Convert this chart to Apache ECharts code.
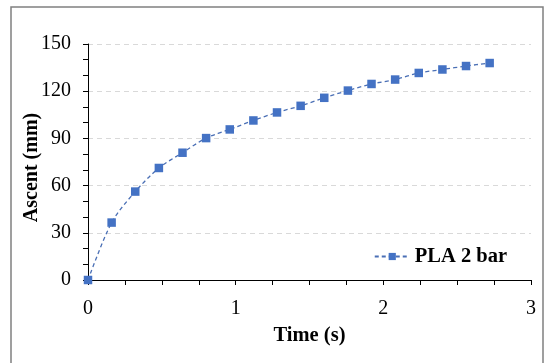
<!DOCTYPE html>
<html><head><meta charset="utf-8">
<script src="https://cdn.jsdelivr.net/npm/echarts@6/dist/echarts.min.js"></script>
<style>html,body{margin:0;padding:0;background:#fff}#c{width:548px;height:363px}</style>
</head><body><div id="c"></div>
<script>
const timeS = [0, 0.16, 0.32, 0.48, 0.64, 0.80, 0.96, 1.12, 1.28, 1.44, 1.60, 1.76, 1.92, 2.08, 2.24, 2.40, 2.56, 2.72];
const ascentMm = [0, 36.5, 56.2, 71.2, 80.9, 90.2, 95.7, 101.4, 106.5, 110.7, 115.8, 120.4, 124.6, 127.4, 131.6, 133.8, 136.0, 137.9];
const seriesName = 'PLA 2 bar';
const xTitle = 'Time (s)';
const yTitle = 'Ascent (mm)';

const chart = echarts.init(document.getElementById('c'), null, {renderer: 'canvas'});
const font = 'Liberation Serif';
chart.setOption({
  animation: false,
  backgroundColor: '#fff',
  graphic: [{type: 'rect', shape: {x: 11, y: 7, width: 532, height: 370}, style: {fill: 'none', stroke: '#808080', lineWidth: 1.5}, silent: true}],
  grid: {left: 88, right: 17, top: 44, bottom: 83},
  legend: {
    right: 36, top: 241, itemWidth: 35, itemHeight: 9, itemGap: 6,
    textStyle: {fontFamily: font, fontSize: 20.5, fontWeight: 'bold', color: '#000'},
    data: [seriesName]
  },
  xAxis: {
    type: 'value', min: 0, max: 3, interval: 1,
    name: xTitle, nameLocation: 'middle', nameGap: 45,
    nameTextStyle: {fontFamily: font, fontSize: 20.5, fontWeight: 'bold', color: '#000'},
    axisLine: {show: true, lineStyle: {color: '#000', width: 1}},
    axisTick: {show: true, length: 5, lineStyle: {color: '#000'}},
    minorTick: {show: true, splitNumber: 4, length: 5, lineStyle: {color: '#000'}},
    axisLabel: {fontFamily: font, fontSize: 20, color: '#000', margin: 19},
    splitLine: {show: false}
  },
  yAxis: {
    type: 'value', min: 0, max: 150, interval: 30,
    name: yTitle, nameLocation: 'middle', nameGap: 46, nameMoveOverlap: false,
    nameTextStyle: {fontFamily: font, fontSize: 20, fontWeight: 'bold', color: '#000', padding: [0, 11, 0, 0]},
    axisLine: {show: true, lineStyle: {color: '#000', width: 1}},
    axisTick: {show: true, length: 5, lineStyle: {color: '#000'}},
    minorTick: {show: true, splitNumber: 3, length: 5, lineStyle: {color: '#000'}},
    axisLabel: {fontFamily: font, fontSize: 20, color: '#000', margin: 17},
    splitLine: {show: true, lineStyle: {color: '#d9d9d9', type: [5, 4], width: 1}}
  },
  series: [{
    name: seriesName, type: 'line', smooth: 0.3,
    data: timeS.map((t, i) => [t, ascentMm[i]]),
    symbol: 'rect', symbolSize: 8.5,
    itemStyle: {color: '#4472C4'},
    lineStyle: {color: '#4a6fb5', width: 1.3, type: [4, 3]}
  }]
});
</script></body></html>
